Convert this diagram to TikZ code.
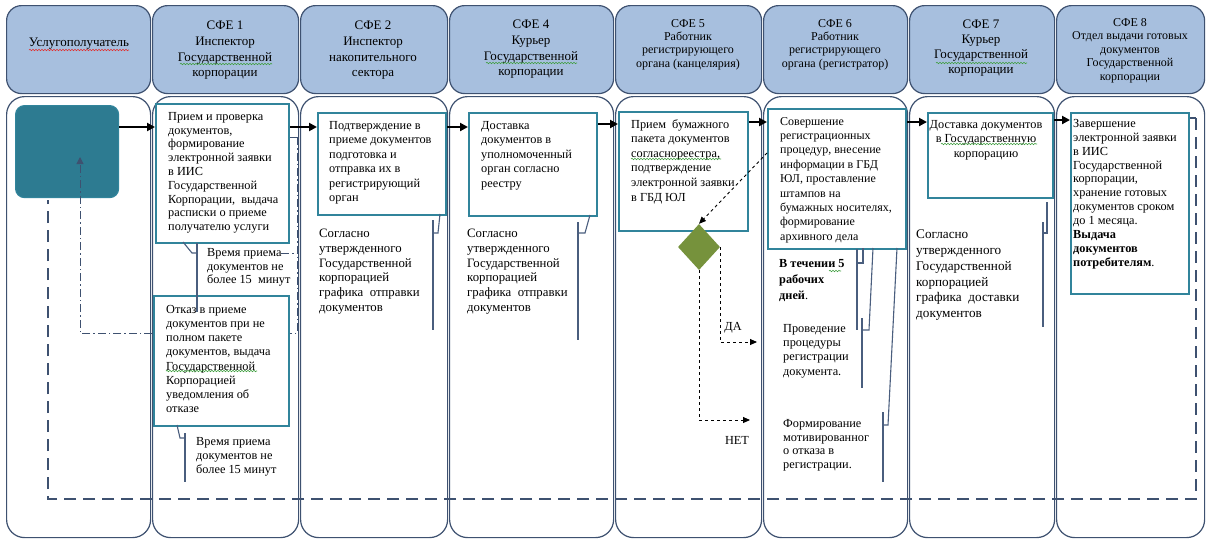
\documentclass[tikz,border=0pt]{standalone}
\usepackage{fontspec}
\setmainfont{Liberation Serif}
\usetikzlibrary{shapes.geometric,arrows.meta,decorations.pathmorphing}
\definecolor{hdrfill}{HTML}{A7BFDE}
\definecolor{lanedraw}{HTML}{3E5170}
\definecolor{boxdraw}{HTML}{31849B}
\definecolor{clientfill}{HTML}{2D7B91}
\definecolor{diafill}{HTML}{76923C}
\definecolor{calline}{HTML}{4A5E7E}
\definecolor{spellred}{HTML}{E03030}
\definecolor{spellgreen}{HTML}{3E9E3E}
\begin{document}
\begin{tikzpicture}[x=1pt,y=-1pt,
  hdr/.style={draw=lanedraw,line width=1.2pt,fill=hdrfill,rounded corners=15pt,anchor=north west,inner sep=0pt,minimum height=88pt},
  lanebody/.style={draw=lanedraw,line width=1.2pt,rounded corners=18pt,anchor=north west,inner sep=0pt,minimum height=441pt},
  stepbox/.style={draw=boxdraw,line width=2pt,fill=white,anchor=north west,inner sep=0pt},
  txt/.style={inner sep=0pt,anchor=north west,align=left,font=\fontsize{12.3}{13.8}\selectfont},
  htxt/.style={inner sep=0pt,anchor=north,align=center,font=\fontsize{13}{15.6}\selectfont},
  hstxt/.style={inner sep=0pt,anchor=north,align=center,font=\fontsize{12}{13.3}\selectfont},
  flow/.style={-{Triangle[length=8pt,width=8pt]},line width=2pt,black},
  callout/.style={draw=calline,line width=1.1pt},
  decision/.style={-{Triangle[length=7pt,width=6pt]},dashed,line width=0.9pt,black},
  retline/.style={draw=lanedraw,line width=1.8pt,dash pattern=on 12pt off 7pt},
  dashdot/.style={draw=lanedraw,line width=1pt,dash pattern=on 8pt off 3pt on 1.5pt off 3pt},
  spell/.style={line width=0.6pt,decorate,decoration={snake,amplitude=0.7pt,segment length=3pt}}
]
\useasboundingbox (0,0) rectangle (1206,539);
\fill[white] (0,0) rectangle (1206,539);

% lanes
\foreach \n/\a/\b in {0/6/150,1/152/298,2/300/447,4/449/613,5/615/761,6/763/907,7/909/1054,8/1056/1204}{
  \node[hdr,minimum width=\b-\a] (h\n) at (\a,5) {};
  \node[lanebody,minimum width=\b-\a] (l\n) at (\a,96) {};
}

% header texts
\node[htxt] (t0) at (79,38) {Услугополучатель};
\node[htxt] (t1) at (225,21) {СФЕ 1\\Инспектор\\Государственной\\корпорации};
\node[htxt] (t2) at (373,21) {СФЕ 2\\Инспектор\\накопительного\\сектора};
\node[htxt] (t4) at (531,20) {СФЕ 4\\Курьер\\Государственной\\корпорации};
\node[hstxt] (t5) at (688,19) {СФЕ 5\\Работник\\регистрирующего\\органа (канцелярия)};
\node[hstxt] (t6) at (835,19) {СФЕ 6\\Работник\\регистрирующего\\органа (регистратор)};
\node[htxt,font=\fontsize{13}{15}\selectfont] (t7) at (981,20) {СФЕ 7\\Курьер\\Государственной\\корпорации};
\node[hstxt,font=\fontsize{12}{13.6}\selectfont] (t8) at (1130,18) {СФЕ 8\\Отдел выдачи готовых\\документов\\Государственной\\корпорации};

% spell-check marks shown in the picture
\draw[spell,spellred] (29,50) -- (129,50);
\draw[spell,spellgreen] (180,64) -- (272,64);
\draw[spell,spellgreen] (486,63) -- (577,63);
\draw[spell,spellgreen] (936,63) -- (1027,63);

% client box
\node[draw=boxdraw,line width=1.2pt,fill=clientfill,rounded corners=9pt,anchor=north west,inner sep=0pt,minimum width=103pt,minimum height=92pt] (client) at (15,105) {};

% dash-dot return (refusal) line
\coordinate (dd1) at (297,137);
\coordinate (dd2) at (297,333);
\coordinate (dd3) at (80,333);
\coordinate (dd4) at (80,157);
\coordinate (dd5) at (281,253);
\draw[dashdot,-{Triangle[length=7pt,width=7pt]}] (dd1) -- (dd2) -- (dd3) -- (dd4);
\draw[dashdot] (dd5) -- (dd5 -| dd1);

% process boxes
\node[stepbox,minimum width=133pt,minimum height=139pt] (b1) at (155,103) {};
\node[stepbox,minimum width=135pt,minimum height=130pt] (b2) at (153,295) {};
\node[stepbox,minimum width=128pt,minimum height=102pt] (b3) at (317,112) {};
\node[stepbox,minimum width=128pt,minimum height=103pt] (b4) at (468,112) {};
\node[stepbox,minimum width=129pt,minimum height=119pt] (b5) at (618,111) {};
\node[stepbox,minimum width=138pt,minimum height=140pt] (b6) at (767,108) {};
\node[stepbox,minimum width=125pt,minimum height=85pt] (b7) at (927,112) {};
\node[stepbox,minimum width=118pt,minimum height=181pt] (b8) at (1070,112) {};

\draw[dashdot] (b1.east |- dd1) -- (dd1);

% long dashed return line
\coordinate (r1) at (1196,118);
\coordinate (r2) at (1196,499);
\coordinate (r3) at (48,499);
\coordinate (r4) at (48,200);
\draw[line width=1.8pt,lanedraw] (b8.east |- r1) -- (r1);
\draw[retline] (r1) -- (r2) -- (r3) -- (r4);

% flow arrows
\coordinate (y1) at (0,127);
\coordinate (y4) at (0,124);
\coordinate (y5) at (0,122);
\coordinate (y7) at (0,120);
\draw[flow] (client.east |- y1) -- (b1.west |- y1);
\draw[flow] (b1.east |- y1) -- (b3.west |- y1);
\draw[flow] (b3.east |- y1) -- (b4.west |- y1);
\draw[flow] (b4.east |- y4) -- (b5.west |- y4);
\draw[flow] (b5.east |- y5) -- (b6.west |- y5);
\draw[flow] (b6.east |- y5) -- (b7.west |- y5);
\draw[flow] (b7.east |- y7) -- (b8.west |- y7);

% decision
\node[diamond,fill=diafill,minimum width=42pt,minimum height=46pt,inner sep=0pt] (dia) at (699,247) {};
\draw[decision] ([yshift=-45pt]b6.north west) -- (dia.north);
\coordinate (da) at (757,342);
\coordinate (net) at (750,420);
\draw[decision] (dia.east) -- (dia.east |- da) -- (da);
\draw[decision] (dia.south) |- (net);
\node[inner sep=0pt,font=\fontsize{12.3}{14}\selectfont] (lda) at (733,328) {ДА};
\node[inner sep=0pt,font=\fontsize{12.3}{14}\selectfont] (lnet) at (737,440) {НЕТ};

% callout brackets
\draw[callout] (183,242) -- (192,253) -- (197,253);
\draw[callout] (197,243) -- (197,312);
\draw[callout] (177,425) -- (180,438) -- (185,438);
\draw[callout] (185,433) -- (185,482);
\draw[callout] (440,214) -- (438,233) -- (433,233);
\draw[callout] (433,220) -- (433,330);
\draw[callout] (590,215) -- (585,233) -- (578,233);
\draw[callout] (578,222) -- (578,340);
\draw[callout] (863,248) -- (863,263) -- (857,263);
\draw[callout] (857,249) -- (857,330);
\draw[callout] (873,248) -- (869,330) -- (862,330);
\draw[callout] (862,318) -- (862,388);
\draw[callout] (897,248) -- (888,425) -- (883,425);
\draw[callout] (883,412) -- (883,482);
\draw[callout] (1047,202) -- (1047,233) -- (1043,233);
\draw[callout] (1043,222) -- (1043,327);

% texts
\node[txt] (tx1) at (168,112) {Прием и проверка\\документов,\\формирование\\электронной заявки\\в ИИС\\Государственной\\Корпорации,\ \ выдача\\расписки о приеме\\получателю услуги};
\node[txt] (tm1) at (207,248) {Время приема\\документов не\\более 15\ \ минут};
\node[txt,font=\fontsize{12.3}{14.2}\selectfont] (tx2) at (166,305) {Отказ в приеме\\документов при не\\полном пакете\\документов, выдача\\Государственной\\Корпорацией\\уведомления об\\отказе};
\node[txt,font=\fontsize{12.3}{14}\selectfont] (tm2) at (196,437) {Время приема\\документов не\\более 15 минут};
\node[txt,font=\fontsize{12.3}{14.5}\selectfont] (tx3) at (329,121) {Подтверждение в\\приеме документов\\подготовка и\\отправка их в\\регистрирующий\\орган};
\node[txt,font=\fontsize{12.8}{14.7}\selectfont] (tc3) at (319,229) {Согласно\\утвержденного\\Государственной\\корпорацией\\графика\ \ отправки\\документов};
\node[txt,font=\fontsize{12.3}{14.5}\selectfont] (tx4) at (481,121) {Доставка\\документов в\\уполномоченный\\орган согласно\\реестру};
\node[txt,font=\fontsize{12.8}{14.7}\selectfont] (tc4) at (467,229) {Согласно\\утвержденного\\Государственной\\корпорацией\\графика\ \ отправки\\документов};
\node[txt,font=\fontsize{12.3}{14.6}\selectfont] (tx5) at (631,119) {Прием\ \ бумажного\\пакета документов\\согласнореестра,\\подтверждение\\электронной заявки\\в ГБД ЮЛ};
\node[txt,font=\fontsize{12}{14.4}\selectfont] (tx6) at (780,117) {Совершение\\регистрационных\\процедур, внесение\\информации в ГБД\\ЮЛ, проставление\\штампов на\\бумажных носителях,\\формирование\\архивного дела};
\node[txt,font=\fontsize{12.3}{16}\selectfont] (tc6a) at (779,259) {\textbf{В течении 5}\\\textbf{рабочих}\\\textbf{дней}.};
\node[txt,font=\fontsize{12.3}{14.3}\selectfont] (tc6b) at (783,324) {Проведение\\процедуры\\регистрации\\документа.};
\node[txt,font=\fontsize{12.3}{13.8}\selectfont] (tc6c) at (783,419) {Формирование\\мотивированног\\о отказа в\\регистрации.};
\node[txt,anchor=north,align=center,font=\fontsize{12.3}{14.5}\selectfont] (tx7) at (986,120) {Доставка документов\\в Государственную\\корпорацию};
\node[txt,font=\fontsize{13.2}{15.7}\selectfont] (tc7) at (916,230) {Согласно\\утвержденного\\Государственной\\корпорацией\\графика\ \ доставки\\документов};
\node[txt,font=\fontsize{12.3}{13.9}\selectfont] (tx8) at (1073,119) {Завершение\\электронной заявки\\в ИИС\\Государственной\\корпорации,\\хранение готовых\\документов сроком\\до 1 месяца.\\\textbf{Выдача}\\\textbf{документов}\\\textbf{потребителям}.};

% spell-check marks inside the boxes
\draw[spell,spellgreen] (166,371) -- (257,371);
\draw[spell,spellgreen] (631,159) -- (721,159);
\draw[spell,spellgreen] (941,144) -- (1037,144);
\draw[spell,spellgreen] (829,271) -- (841,271);
\end{tikzpicture}
\end{document}
